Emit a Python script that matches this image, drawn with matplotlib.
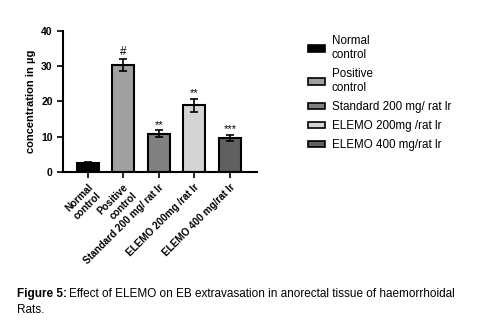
import matplotlib
matplotlib.use("Agg")
import matplotlib.pyplot as plt
from matplotlib.patches import Patch

plt.rcParams['font.family'] = ['Liberation Sans', 'DejaVu Sans']

groups = ["Normal\ncontrol", "Positive\ncontrol", "Standard 200 mg/ rat lr",
          "ELEMO 200mg /rat lr", "ELEMO 400 mg/rat lr"]
values = [2.5, 30.4, 10.9, 18.9, 9.7]
errors = [0.4, 1.7, 0.9, 1.9, 0.8]
marks = ["", "#", "**", "**", "***"]
colors = ["#000000", "#a0a0a0", "#808080", "#d4d4d4", "#606060"]

fig = plt.figure(figsize=(4.82, 3.33), dpi=100)
ax = fig.add_axes([0.131, 0.4835, 0.402, 0.4235])

x = range(len(groups))
ax.bar(x, values, width=0.62, color=colors, edgecolor="black", linewidth=1.5,
       yerr=errors, error_kw=dict(ecolor="black", elinewidth=1.2, capsize=3, capthick=1.2))
for i in x:
    if marks[i]:
        ax.text(i, values[i] + errors[i] + 0.2, marks[i], ha="center", va="bottom",
                fontsize=8.5 if marks[i] == "#" else 8)

ax.set_xlim(-0.69, 4.76)
ax.set_ylim(0, 40)
ax.set_yticks([0, 10, 20, 30, 40])
ax.set_yticklabels(["0", "10", "20", "30", "40"], fontsize=7.5, fontweight="bold")
ax.set_xticks(list(x))
ax.set_xticklabels(groups, rotation=45, ha="right", rotation_mode="anchor",
                   fontsize=7.2, fontweight="bold")
ax.set_ylabel("concentration in µg", fontsize=8, fontweight="bold")

ax.spines["top"].set_visible(False)
ax.spines["right"].set_visible(False)
ax.spines["left"].set_linewidth(1.5)
ax.spines["bottom"].set_linewidth(1.5)
ax.tick_params(width=1.2, length=4)

handles = [Patch(facecolor=c, edgecolor="black", linewidth=1.2) for c in colors]
fig.legend(handles, groups, loc="upper left", bbox_to_anchor=(0.617, 0.925),
           frameon=False, fontsize=8.4, handlelength=1.5, handleheight=0.5,
           labelspacing=0.6, handletextpad=0.55)

t1 = fig.text(0.035, 0.118, "Figure 5:", fontsize=8.5, fontweight="bold", va="center")
fig.canvas.draw()
bb = t1.get_window_extent().transformed(fig.transFigure.inverted())
fig.text(bb.x1 + 0.004, 0.118,
         "Effect of ELEMO on EB extravasation in anorectal tissue of haemorrhoidal",
         fontsize=8.5, va="center")
fig.text(0.035, 0.07, "Rats.", fontsize=8.5, va="center")

fig.savefig("out.png", dpi=100)
